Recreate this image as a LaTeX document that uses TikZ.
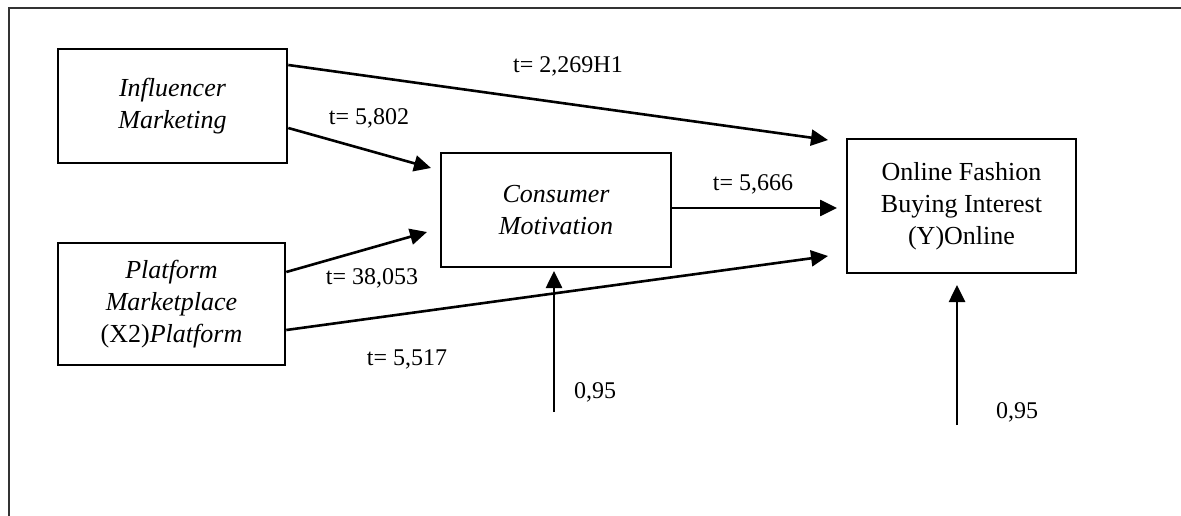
\documentclass[tikz,border=0pt]{standalone}
\usepackage{fontspec}
\setmainfont{Liberation Serif}
\usetikzlibrary{arrows.meta}
\begin{document}
\begin{tikzpicture}[x=1pt,y=-1pt,
  box/.style={draw=black,line width=2.6pt,minimum width=#1,inner sep=0pt,align=center,font=\fontsize{26}{32}\selectfont},
  arr/.style={line width=2.6pt,-{Triangle[length=17pt,width=16pt]}},
  lbl/.style={font=\fontsize{24}{28}\selectfont,inner sep=0pt}]
\useasboundingbox (0,0) rectangle (1181,516);
\draw[line width=1.5pt,black!80] (9,516) -- (9,8) -- (1181,8);
\node[box=229pt,minimum height=114pt] (inf) at (172.5,106) {\itshape Influencer\\\itshape Marketing};
\node[box=227pt,minimum height=122pt] (plat) at (171.5,304) {\itshape Platform\\\itshape Marketplace\\(X2)\textit{Platform}};
\node[box=230pt,minimum height=114pt] (cm) at (556,210) {\itshape Consumer\\\itshape Motivation};
\node[box=229pt,minimum height=134pt] (y) at (961.5,206) {Online Fashion\\Buying Interest\\(Y)Online};
\coordinate (t1) at (828,140);
\coordinate (t2) at (431,168);
\coordinate (t3) at (427,232);
\coordinate (t4) at (828,256);
\coordinate (t5) at (837,208);
\coordinate (b1) at (554,412);
\coordinate (t6) at (554,271);
\coordinate (b2) at (957,425);
\coordinate (t7) at (957,285);
\draw[arr] ([yshift=41pt]inf.east) -- (t1);
\draw[arr] ([yshift=-22pt]inf.east) -- (t2);
\draw[arr] ([yshift=32pt]plat.east) -- (t3);
\draw[arr] ([yshift=-26pt]plat.east) -- (t4);
\draw[arr] ([yshift=2pt]cm.east) -- (t5);
\draw[arr] (b1) -- (t6);
\draw[arr] (b2) -- (t7);
\node[lbl] (l1) at (568,66) {t= 2,269H1};
\node[lbl] (l2) at (369,118) {t= 5,802};
\node[lbl] (l3) at (372,278) {t= 38,053};
\node[lbl] (l4) at (407,359) {t= 5,517};
\node[lbl] (l5) at (753,184) {t= 5,666};
\node[lbl] (l6) at (595,392) {0,95};
\node[lbl] (l7) at (1017,412) {0,95};
\end{tikzpicture}
\end{document}
